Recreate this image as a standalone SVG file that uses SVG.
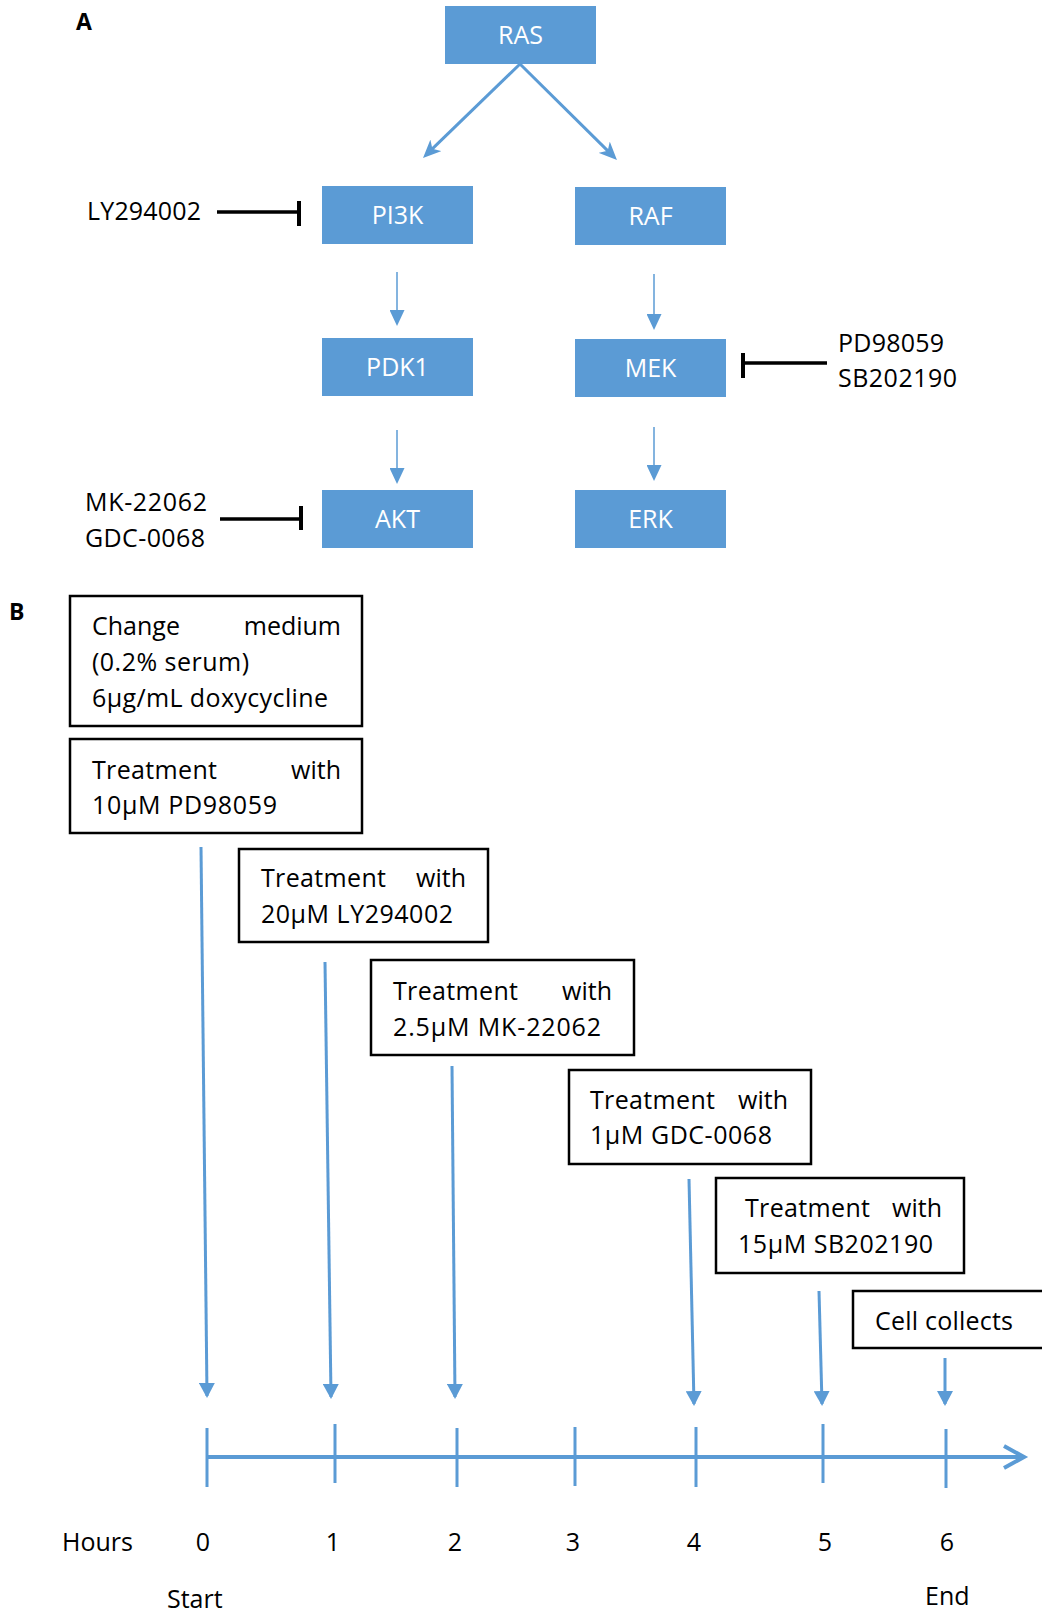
<svg xmlns="http://www.w3.org/2000/svg" width="1042" height="1613" viewBox="0 0 1042 1613">
<style>
.bg{fill:#ffffff}
.node rect.blue{fill:#5B9BD5;stroke:none}
.wt{font-family:"Open Sans","Liberation Sans",sans-serif;font-size:25px;fill:#ffffff;text-anchor:middle}
.t{font-family:"Open Sans","Liberation Sans",sans-serif;font-size:25px;fill:#000000}
.end{text-anchor:end}
.mid{text-anchor:middle}
.lbl{font-family:"Open Sans","Liberation Sans",sans-serif;font-size:23px;font-weight:bold;fill:#000000}
.box{fill:#ffffff;stroke:#000000;stroke-width:2.5}
.diag{stroke:#5B9BD5;stroke-width:3;fill:none}
.vthin{stroke:#5B9BD5;stroke-width:1.5;fill:none}
.tl{stroke:#5B9BD5;stroke-width:3;fill:none}
.axis{stroke:#5B9BD5;stroke-width:4;fill:none}
.inh{stroke:#000000;stroke-width:3.5;fill:none}
.bar{stroke:#000000;stroke-width:4;fill:none}
</style>
<defs>
<marker id="headA" viewBox="0 0 18 16" markerWidth="18" markerHeight="16" refX="13" refY="8" orient="auto" markerUnits="userSpaceOnUse">
<path d="M0,0 L18,8 L0,16 L5,8 Z" fill="#5B9BD5"/>
</marker>
<marker id="headV" viewBox="0 0 16 15" markerWidth="16" markerHeight="15" refX="14" refY="7.5" orient="auto" markerUnits="userSpaceOnUse">
<path d="M0,0 L16,7.5 L0,15 Z" fill="#5B9BD5"/>
</marker>
<marker id="headT" viewBox="0 0 15 16" markerWidth="15" markerHeight="16" refX="13" refY="8" orient="auto" markerUnits="userSpaceOnUse">
<path d="M0,0 L15,8 L0,16 Z" fill="#5B9BD5"/>
</marker>
</defs>
<rect class="bg" x="0" y="0" width="1042" height="1613"/>

<text class="lbl" x="76" y="30">A</text>
<text class="lbl" x="9" y="620">B</text>

<g id="node-RAS" class="node"><rect class="blue" x="445" y="6" width="151" height="58"/><text class="wt" x="520.5" y="43.5">RAS</text></g>
<g id="node-PI3K" class="node"><rect class="blue" x="322" y="186" width="151" height="58"/><text class="wt" x="397.5" y="223.5">PI3K</text></g>
<g id="node-RAF" class="node"><rect class="blue" x="575" y="187" width="151" height="58"/><text class="wt" x="650.5" y="224.5">RAF</text></g>
<g id="node-PDK1" class="node"><rect class="blue" x="322" y="338" width="151" height="58"/><text class="wt" x="397.5" y="375.5">PDK1</text></g>
<g id="node-MEK" class="node"><rect class="blue" x="575" y="339" width="151" height="58"/><text class="wt" x="650.5" y="376.5">MEK</text></g>
<g id="node-AKT" class="node"><rect class="blue" x="322" y="490" width="151" height="58"/><text class="wt" x="397.5" y="527.5">AKT</text></g>
<g id="node-ERK" class="node"><rect class="blue" x="575" y="490" width="151" height="58"/><text class="wt" x="650.5" y="527.5">ERK</text></g>

<g id="inhibitor-labels">
<text class="t" x="87" y="220" textLength="114">LY294002</text>
<text class="t" x="838" y="352" textLength="106">PD98059</text>
<text class="t" x="838" y="387" textLength="119">SB202190</text>
<text class="t" x="85" y="511" textLength="122">MK-22062</text>
<text class="t" x="85" y="547" textLength="120">GDC-0068</text>
</g>

<g id="step-change-medium" class="node">
<rect class="box" x="70" y="596" width="292" height="130"/>
<text class="t" x="92" y="635">Change</text><text class="t end" x="341" y="635">medium</text>
<text class="t" x="92" y="671" textLength="157">(0.2% serum)</text>
<text class="t" x="92" y="707" textLength="236">6µg/mL doxycycline</text>
</g>
<g id="step-PD98059" class="node">
<rect class="box" x="70" y="739" width="292" height="94"/>
<text class="t" x="92" y="779" textLength="125">Treatment</text><text class="t end" x="341" y="779">with</text>
<text class="t" x="92" y="814" textLength="185">10µM PD98059</text>
</g>
<g id="step-LY294002" class="node">
<rect class="box" x="239" y="849" width="249" height="93"/>
<text class="t" x="261" y="887" textLength="125">Treatment</text><text class="t end" x="466" y="887">with</text>
<text class="t" x="261" y="923" textLength="192">20µM LY294002</text>
</g>
<g id="step-MK22062" class="node">
<rect class="box" x="371" y="960" width="263" height="95"/>
<text class="t" x="393" y="1000" textLength="125">Treatment</text><text class="t end" x="612" y="1000">with</text>
<text class="t" x="393" y="1036" textLength="208">2.5µM MK-22062</text>
</g>
<g id="step-GDC0068" class="node">
<rect class="box" x="569" y="1070" width="242" height="94"/>
<text class="t" x="590" y="1109" textLength="125">Treatment</text><text class="t end" x="788" y="1109">with</text>
<text class="t" x="590" y="1144" textLength="182">1µM GDC-0068</text>
</g>
<g id="step-SB202190" class="node">
<rect class="box" x="716" y="1178" width="248" height="95"/>
<text class="t" x="745" y="1217" textLength="125">Treatment</text><text class="t end" x="942" y="1217">with</text>
<text class="t" x="738" y="1253" textLength="195">15µM SB202190</text>
</g>
<g id="step-collect" class="node">
<rect class="box" x="853" y="1291" width="210" height="57"/>
<text class="t" x="875" y="1330" textLength="138">Cell collects</text>
</g>

<g id="connectors">
<line class="diag" x1="520" y1="64" x2="426.6" y2="154.4" marker-end="url(#headA)"/>
<line class="diag" x1="520" y1="64" x2="613.4" y2="156.4" marker-end="url(#headA)"/>
<line class="vthin" x1="397" y1="272" x2="397" y2="324" marker-end="url(#headV)"/>
<line class="vthin" x1="654" y1="274" x2="654" y2="328" marker-end="url(#headV)"/>
<line class="vthin" x1="397" y1="430" x2="397" y2="482" marker-end="url(#headV)"/>
<line class="vthin" x1="654" y1="427" x2="654" y2="479" marker-end="url(#headV)"/>
<line class="inh" x1="217" y1="212" x2="299" y2="212"/>
<line class="bar" x1="299" y1="201" x2="299" y2="226"/>
<line class="inh" x1="743" y1="363" x2="827" y2="363"/>
<line class="bar" x1="743" y1="353" x2="743" y2="378"/>
<line class="inh" x1="220" y1="519" x2="301" y2="519"/>
<line class="bar" x1="301" y1="506" x2="301" y2="530"/>

<line class="tl" x1="201" y1="847" x2="207" y2="1396" marker-end="url(#headT)"/>
<line class="tl" x1="325" y1="962" x2="331" y2="1397" marker-end="url(#headT)"/>
<line class="tl" x1="452" y1="1066" x2="455" y2="1397" marker-end="url(#headT)"/>
<line class="tl" x1="689" y1="1179" x2="694" y2="1404" marker-end="url(#headT)"/>
<line class="tl" x1="819" y1="1291" x2="822" y2="1404" marker-end="url(#headT)"/>
<line class="tl" x1="945" y1="1358" x2="945" y2="1404" marker-end="url(#headT)"/>
</g>

<g id="timeline">
<line class="axis" x1="207" y1="1457" x2="1023" y2="1457"/>
<polyline class="axis" points="1004,1446 1024,1457 1004,1468"/>
<line class="tl" x1="207" y1="1428" x2="207" y2="1487"/>
<line class="tl" x1="335" y1="1424" x2="335" y2="1483"/>
<line class="tl" x1="457" y1="1428" x2="457" y2="1487"/>
<line class="tl" x1="575" y1="1427" x2="575" y2="1486"/>
<line class="tl" x1="696" y1="1427" x2="696" y2="1487"/>
<line class="tl" x1="823" y1="1424" x2="823" y2="1483"/>
<line class="tl" x1="946" y1="1429" x2="946" y2="1488"/>
<text class="t" x="62" y="1551">Hours</text>
<text class="t mid" x="203" y="1551">0</text>
<text class="t mid" x="333" y="1551">1</text>
<text class="t mid" x="455" y="1551">2</text>
<text class="t mid" x="573" y="1551">3</text>
<text class="t mid" x="694" y="1551">4</text>
<text class="t mid" x="825" y="1551">5</text>
<text class="t mid" x="947" y="1551">6</text>
<text class="t" x="167" y="1608">Start</text>
<text class="t" x="925" y="1605">End</text>
</g>
</svg>
